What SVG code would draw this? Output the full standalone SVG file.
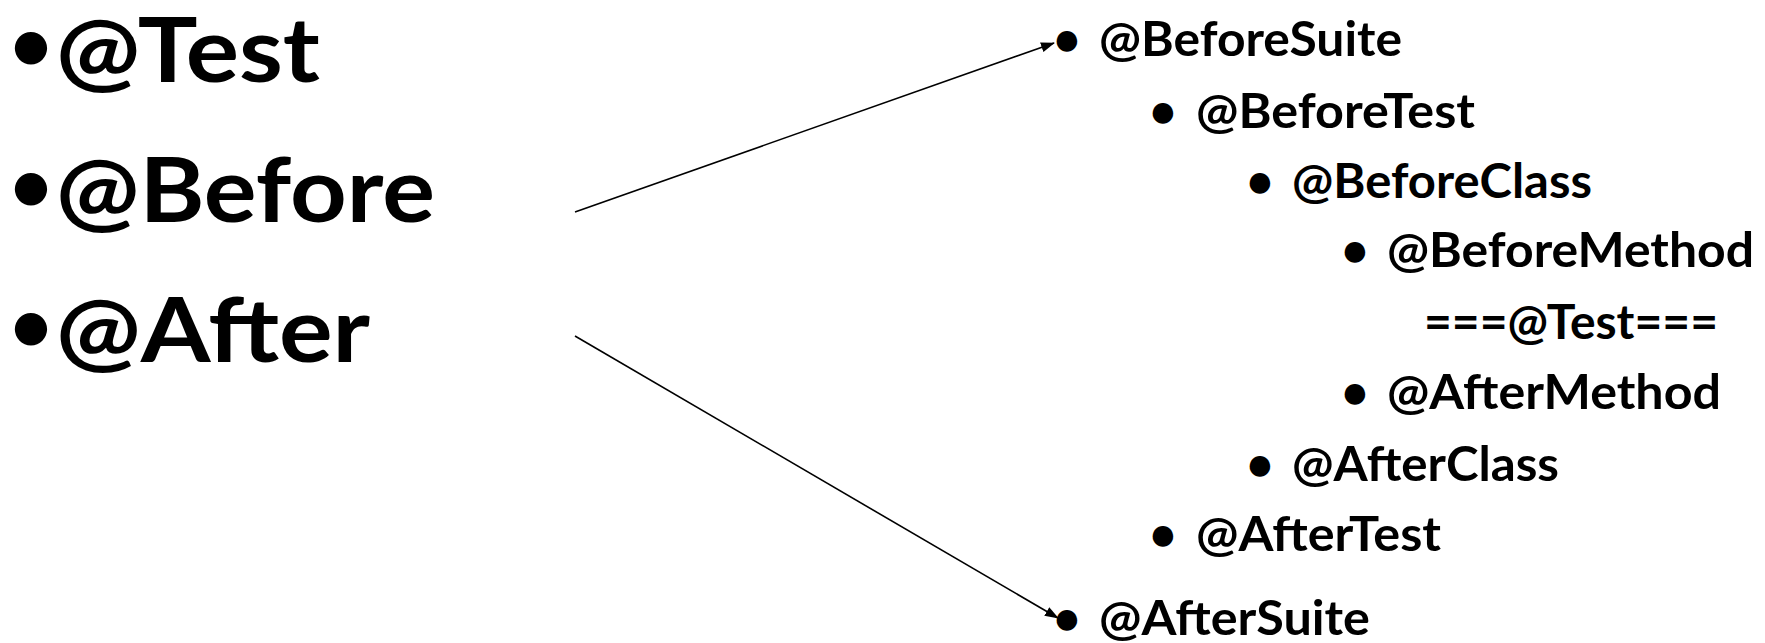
<svg xmlns="http://www.w3.org/2000/svg" width="1765" height="643" viewBox="0 0 1765 643">
<style>
text{font-family:Lato,"Open Sans","Liberation Sans",sans-serif;font-weight:bold;fill:#000}
.big{font-size:90px}
.sm{font-size:47px}
.bb{font-size:74px;text-anchor:middle}
.bs{font-size:47px;text-anchor:middle}
.conn{stroke:#000;stroke-width:1.6;fill:none}
</style>
<defs>
<marker id="arr" markerUnits="userSpaceOnUse" markerWidth="14" markerHeight="10" refX="13" refY="5" orient="auto">
<path d="M0,0 L14,5 L0,10 Z" fill="#000"/>
</marker>
</defs>
<rect width="1765" height="643" fill="#fff"/>
<g id="left-test"><text class="bb" x="31" y="70">•</text><text class="big" x="56" y="82" textLength="264" lengthAdjust="spacingAndGlyphs">@Test</text></g>
<g id="left-before"><text class="bb" x="31" y="211">•</text><text class="big" x="56" y="222" textLength="379" lengthAdjust="spacingAndGlyphs">@Before</text></g>
<g id="left-after"><text class="bb" x="31" y="351">•</text><text class="big" x="56" y="362" textLength="314" lengthAdjust="spacingAndGlyphs">@After</text></g>

<g id="before-suite"><text class="bs" x="1067" y="56">•</text><text class="sm" x="1099" y="56" textLength="303" lengthAdjust="spacingAndGlyphs">@BeforeSuite</text></g>
<g id="before-test"><text class="bs" x="1163" y="128">•</text><text class="sm" x="1196" y="128" textLength="279" lengthAdjust="spacingAndGlyphs">@BeforeTest</text></g>
<g id="before-class"><text class="bs" x="1260" y="198">•</text><text class="sm" x="1292" y="198" textLength="300" lengthAdjust="spacingAndGlyphs">@BeforeClass</text></g>
<g id="before-method"><text class="bs" x="1355" y="267">•</text><text class="sm" x="1387" y="267" textLength="367" lengthAdjust="spacingAndGlyphs">@BeforeMethod</text></g>
<g id="test"><text class="sm" x="1424" y="339" textLength="294" lengthAdjust="spacingAndGlyphs">===@Test===</text></g>
<g id="after-method"><text class="bs" x="1355" y="409">•</text><text class="sm" x="1387" y="409" textLength="334" lengthAdjust="spacingAndGlyphs">@AfterMethod</text></g>
<g id="after-class"><text class="bs" x="1260" y="481">•</text><text class="sm" x="1292" y="481" textLength="267" lengthAdjust="spacingAndGlyphs">@AfterClass</text></g>
<g id="after-test"><text class="bs" x="1163" y="551">•</text><text class="sm" x="1196" y="551" textLength="245" lengthAdjust="spacingAndGlyphs">@AfterTest</text></g>
<g id="after-suite"><text class="bs" x="1067" y="635">•</text><text class="sm" x="1099" y="635" textLength="271" lengthAdjust="spacingAndGlyphs">@AfterSuite</text></g>

<g id="connectors">
<line class="conn" x1="575" y1="212" x2="1054" y2="43" marker-end="url(#arr)"/>
<line class="conn" x1="575" y1="336" x2="1058" y2="618" marker-end="url(#arr)"/>
</g>
</svg>
